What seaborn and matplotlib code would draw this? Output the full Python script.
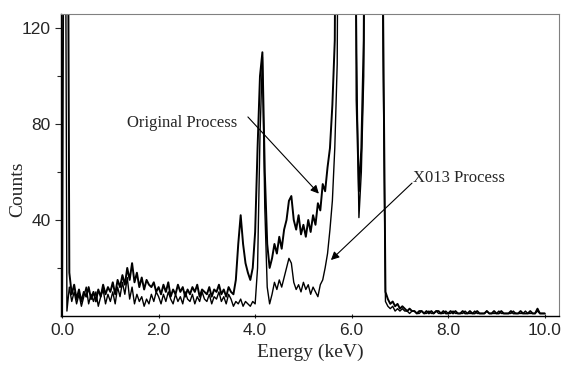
import numpy as np
import pandas as pd
import matplotlib
matplotlib.use("Agg")
import matplotlib.pyplot as plt
import seaborn as sns

# energy channels, 0.05 keV apart
energy = np.linspace(0, 10, 201)

# counts, one row per keV (300 = off scale)
original = [
    0, 300, 300, 18, 9, 13, 7, 11, 6, 10, 8, 12, 7, 10, 6, 11, 8, 13, 9, 12,
    10, 14, 9, 15, 12, 17, 13, 20, 15, 22, 14, 18, 12, 16, 11, 15, 13, 12, 14, 10,
    12, 9, 13, 10, 14, 8, 11, 9, 13, 10, 12, 8, 11, 9, 12, 10, 13, 8, 11, 10,
    9, 12, 8, 11, 10, 13, 9, 11, 8, 12, 10, 9, 15, 30, 42, 30, 22, 18, 15, 20,
    35, 70, 100, 110, 60, 30, 20, 24, 30, 26, 33, 28, 36, 40, 48, 50, 40, 36, 42, 34,
    38, 33, 40, 35, 42, 38, 47, 44, 55, 52, 62, 70, 88, 115, 300, 300, 300, 300, 300, 300,
    300, 300, 90, 52, 70, 115, 300, 300, 300, 300, 300, 300, 300, 130, 10, 7, 5, 6, 4, 5,
    3, 4, 3, 2, 3, 2, 2, 1, 2, 2, 1, 2, 1, 2, 1, 2, 2, 1, 2, 1,
    1, 2, 1, 2, 1, 1, 2, 1, 1, 2, 1, 1, 2, 1, 1, 1, 2, 1, 1, 2,
    1, 1, 2, 1, 1, 1, 2, 1, 1, 1, 2, 1, 1, 1, 2, 1, 1, 3, 1, 1,
    1,
]
x013 = [
    300, 300, 2, 12, 6, 10, 5, 9, 4, 8, 12, 5, 9, 6, 10, 4, 8, 11, 5, 9,
    6, 10, 5, 12, 8, 14, 9, 16, 7, 12, 5, 9, 6, 8, 4, 7, 5, 9, 6, 10,
    8, 5, 9, 6, 10, 7, 5, 9, 6, 8, 5, 10, 7, 6, 9, 5, 8, 6, 10, 7,
    6, 9, 5, 8, 7, 10, 6, 8, 5, 9, 7, 4, 6, 5, 7, 4, 6, 5, 4, 6,
    5, 20, 75, 108, 45, 12, 5, 9, 14, 11, 15, 12, 16, 20, 24, 22, 14, 11, 13, 10,
    14, 11, 13, 9, 12, 10, 8, 13, 15, 20, 26, 36, 48, 70, 105, 300, 300, 300, 300, 300,
    300, 300, 110, 41, 60, 100, 300, 300, 300, 300, 300, 300, 300, 110, 6, 4, 3, 4, 2, 3,
    2, 3, 2, 2, 1, 2, 2, 1, 1, 2, 1, 1, 2, 1, 1, 2, 1, 1, 1, 2,
    1, 1, 2, 1, 1, 1, 1, 2, 1, 1, 1, 2, 1, 1, 1, 1, 2, 1, 1, 1,
    1, 2, 1, 1, 1, 1, 1, 2, 1, 1, 1, 1, 2, 1, 1, 1, 1, 2, 1, 1,
    1,
]

xticks = [0, 2, 4, 6, 8, 10]
yticks = [40, 80, 120]

df = pd.DataFrame({"Energy": energy, "Original": original, "X013": x013})

sns.set_style("ticks")
plt.rcParams['font.family'] = ['Liberation Sans', 'DejaVu Sans']
serif = ['Liberation Serif', 'DejaVu Serif']

fig = plt.figure(figsize=(5.66, 3.66), dpi=100)
ax = fig.add_axes([0.108, 0.137, 0.88, 0.825])

sns.lineplot(data=df, x="Energy", y="Original", ax=ax, color="black",
             linewidth=1.4, estimator=None, sort=False)
sns.lineplot(data=df, x="Energy", y="X013", ax=ax, color="black",
             linewidth=1.0, estimator=None, sort=False)

ax.set_xlim(-0.02, 10.3)
ax.set_ylim(0, 126)
ax.set_xticks(xticks)
ax.set_xticklabels(["%.1f" % t for t in xticks], fontsize=12.5)
ax.set_yticks(yticks)
ax.set_yticklabels([str(t) for t in yticks], fontsize=12.5)
ax.set_yticks([20, 60, 100], minor=True)
ax.tick_params(axis='y', which='major', length=4, width=0.8, direction='out')
ax.tick_params(axis='y', which='minor', length=3, width=0.8, direction='out')
ax.tick_params(axis='x', length=3, width=0.8, direction='inout')

for s in ['top', 'right']:
    ax.spines[s].set_color('#808080')
    ax.spines[s].set_linewidth(0.8)
for s in ['left', 'bottom']:
    ax.spines[s].set_color('black')
    ax.spines[s].set_linewidth(1.0)

ax.set_xlabel("Energy (keV)", fontsize=14, family=serif, labelpad=4)
ax.set_ylabel("Counts", fontsize=14, family=serif)
ax.yaxis.set_label_coords(-0.07, 0.42)

ax.text(3.62, 80.4, "Original Process", ha='right', va='center',
        fontsize=12, family=serif)
ax.annotate('', xy=(5.32, 51), xytext=(3.85, 83),
            arrowprops=dict(arrowstyle='-|>', color='black', lw=0.8,
                            mutation_scale=12, shrinkA=0, shrinkB=0))
ax.text(7.27, 57.5, "X013 Process", ha='left', va='center',
        fontsize=12, family=serif)
ax.annotate('', xy=(5.57, 23.3), xytext=(7.25, 55.4),
            arrowprops=dict(arrowstyle='-|>', color='black', lw=0.8,
                            mutation_scale=12, shrinkA=0, shrinkB=0))

fig.savefig("out.png", dpi=100)
